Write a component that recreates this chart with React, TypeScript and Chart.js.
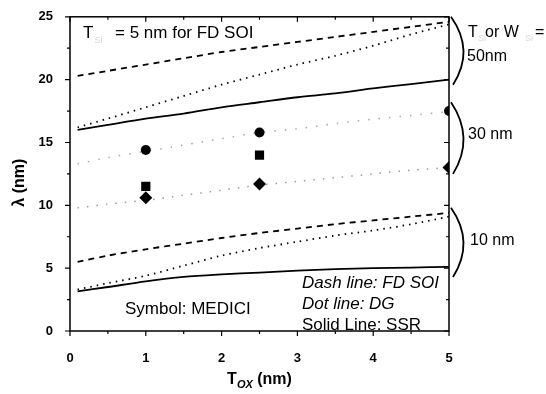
import React, { useEffect, useRef } from 'react';
import { Chart, registerables } from 'chart.js';

Chart.register(...registerables);

// Tox (nm) sample positions for the model curves
const toxNm = [0.1, 0.5, 1, 1.5, 2, 2.5, 3, 3.5, 4, 4.5, 5];

// T or W = 50 nm
const fdSoi50 = [20.3, 20.7, 21.2, 21.7, 22.2, 22.6, 23.0, 23.4, 23.8, 24.2, 24.6];
const dg50 = [16.2, 16.9, 17.8, 18.7, 19.6, 20.4, 21.2, 21.9, 22.7, 23.6, 24.4];
const ssr50 = [16.0, 16.4, 16.9, 17.3, 17.8, 18.2, 18.6, 18.9, 19.3, 19.65, 20.0];

// T or W = 30 nm (faint in the original)
const fdSoi30 = [13.3, 13.8, 14.3, 14.8, 15.3, 15.8, 16.1, 16.5, 16.85, 17.15, 17.45];
const ssr30 = [9.8, 10.1, 10.4, 10.8, 11.2, 11.6, 11.9, 12.2, 12.5, 12.8, 13.0];

// T or W = 10 nm
const fdSoi10 = [5.5, 6.0, 6.5, 6.95, 7.4, 7.8, 8.15, 8.5, 8.8, 9.1, 9.4];
const dg10 = [3.3, 3.8, 4.4, 5.2, 6.0, 6.6, 7.1, 7.6, 8.0, 8.5, 9.1];
const ssr10 = [3.15, 3.5, 3.95, 4.3, 4.5, 4.65, 4.8, 4.92, 5.0, 5.05, 5.1];

// MEDICI symbols (30 nm)
const medToxCircle = [1, 2.5, 5];
const medFdSoi = [14.4, 15.8, 17.5];
const medToxSquare = [1, 2.5];
const medDg = [11.5, 14.0];
const medToxDiamond = [1, 2.5, 5];
const medSsr = [10.6, 11.7, 13.0];

// Axis ticks
const xMin = 0, xMax = 5, xStep = 0.5;
const yMin = 0, yMax = 25, yStep = 2.5;

const FONT = '"Liberation Sans", Arial, sans-serif';

const pts = (xs: number[], ys: number[]) => xs.map((x, i) => ({ x, y: ys[i] }));

const lineDs = (label: string, ys: number[], dash: number[], width: number, color = '#000') => ({
  label,
  data: pts(toxNm, ys),
  borderColor: color,
  borderWidth: width,
  borderDash: dash,
  pointRadius: 0,
  fill: false,
  tension: 0.3,
});

const markerDs = (label: string, xs: number[], ys: number[], style: string, r: number) => ({
  label,
  data: pts(xs, ys),
  showLine: false,
  pointStyle: style,
  pointRadius: r,
  pointBackgroundColor: '#000',
  pointBorderColor: '#000',
  pointBorderWidth: 0,
  clip: 0,
});

const framePlugin = {
  id: 'frameTicks',
  afterDraw(chart: any) {
    const { ctx, chartArea: a, scales } = chart;
    const xs = scales.x, ys = scales.y;
    ctx.save();
    ctx.strokeStyle = '#000';
    ctx.lineWidth = 1.5;
    ctx.strokeRect(a.left, a.top, a.right - a.left, a.bottom - a.top);
    ctx.lineWidth = 1.2;
    ctx.beginPath();
    xs.ticks.forEach((t: any) => {
      const px = xs.getPixelForValue(t.value);
      const major = Math.abs(t.value - Math.round(t.value)) < 1e-6;
      const len = major ? 5 : 3;
      ctx.moveTo(px, a.bottom); ctx.lineTo(px, a.bottom + len);
      ctx.moveTo(px, a.top); ctx.lineTo(px, a.top + len);
    });
    ys.ticks.forEach((t: any) => {
      const py = ys.getPixelForValue(t.value);
      const major = Math.abs(t.value / 5 - Math.round(t.value / 5)) < 1e-6;
      const len = major ? 5 : 3;
      ctx.moveTo(a.left, py); ctx.lineTo(a.left - len, py);
      ctx.moveTo(a.right, py); ctx.lineTo(a.right - len, py);
    });
    ctx.stroke();

    // braces on the right
    const brace = (y1: number, y2: number) => {
      const p1 = ys.getPixelForValue(y1), p2 = ys.getPixelForValue(y2);
      ctx.beginPath();
      ctx.moveTo(a.right + 2, p1);
      ctx.quadraticCurveTo(a.right + 26, (p1 + p2) / 2, a.right + 4, p2);
      ctx.lineWidth = 1.8;
      ctx.stroke();
    };
    brace(25, 19.6);
    brace(18.2, 12.5);
    brace(9.8, 4.3);

    // texts
    ctx.textBaseline = 'alphabetic';
    ctx.textAlign = 'left';
    const txt = (s: string, x: number, y: number, font: string, color = '#000') => {
      ctx.font = font; ctx.fillStyle = color; ctx.fillText(s, x, y);
      return ctx.measureText(s).width;
    };
    // top-left
    const w = txt('T', a.left + 13, 38, `17px ${FONT}`);
    txt('Si', a.left + 13 + w + 1, 43, `9px ${FONT}`, '#d8d8d8');
    txt('= 5 nm for FD SOI', a.left + 45, 38, `17px ${FONT}`);
    // right labels
    txt('T', a.right + 19, 37, `16px ${FONT}`);
    txt('Si', a.right + 29, 41, `9px ${FONT}`, '#d8d8d8');
    txt('or W', a.right + 36, 37, `16px ${FONT}`);
    txt('Si', a.right + 76, 41, `9px ${FONT}`, '#d8d8d8');
    txt('=', a.right + 86, 37, `16px ${FONT}`);
    txt('50nm', a.right + 18, 61, `16px ${FONT}`);
    txt('30 nm', a.right + 19, 139, `16px ${FONT}`);
    txt('10 nm', a.right + 21, 245, `16px ${FONT}`);
    // legend texts
    txt('Dash line: FD SOI', 302, 288, `italic 17px ${FONT}`);
    txt('Dot line: DG', 302, 309, `italic 17px ${FONT}`);
    txt('Solid Line: SSR', 302, 330, `17px ${FONT}`);
    txt('Symbol: MEDICI', 125, 314, `17px ${FONT}`);

    // x title
    ctx.font = `bold 16px ${FONT}`;
    const wT = ctx.measureText('T').width;
    ctx.font = `italic bold 11px ${FONT}`;
    const wS = ctx.measureText('OX').width;
    ctx.font = `bold 16px ${FONT}`;
    const wR = ctx.measureText(' (nm)').width;
    const cx = (a.left + a.right) / 2;
    const x0 = cx - (wT + wS + wR) / 2;
    txt('T', x0, 384, `bold 16px ${FONT}`);
    txt('OX', x0 + wT, 388, `italic bold 11px ${FONT}`);
    txt(' (nm)', x0 + wT + wS, 384, `bold 16px ${FONT}`);

    // y title
    ctx.save();
    ctx.translate(20, ys.getPixelForValue(11.8));
    ctx.rotate(-Math.PI / 2);
    ctx.textAlign = 'center';
    ctx.textBaseline = 'middle';
    ctx.font = `bold 16px ${FONT}`;
    ctx.fillStyle = '#000';
    ctx.fillText('λ (nm)', 0, 0);
    ctx.restore();

    ctx.restore();
  },
};

export default function App() {
  const ref = useRef<HTMLCanvasElement>(null);
  useEffect(() => {
    if (!ref.current) return;
    const chart = new Chart(ref.current, {
      type: 'line',
      data: {
        datasets: [
          lineDs('FD SOI 50', fdSoi50, [6, 5], 1.8),
          lineDs('DG 50', dg50, [1.5, 5], 1.8),
          lineDs('SSR 50', ssr50, [], 1.8),
          lineDs('FD SOI 30', fdSoi30, [1.5, 9], 1.5, 'rgba(0,0,0,0.35)'),
          lineDs('SSR 30', ssr30, [1.5, 8], 1.5, 'rgba(0,0,0,0.4)'),
          lineDs('FD SOI 10', fdSoi10, [6, 5], 1.8),
          lineDs('DG 10', dg10, [1.5, 5], 1.8),
          lineDs('SSR 10', ssr10, [], 1.8),
          markerDs('MEDICI FD SOI', medToxCircle, medFdSoi, 'circle', 5),
          markerDs('MEDICI DG', medToxSquare, medDg, 'rect', 6.5),
          markerDs('MEDICI SSR', medToxDiamond, medSsr, 'rectRot', 6.5),
        ] as any,
      },
      options: {
        responsive: false,
        animation: false,
        layout: { padding: { top: 12, right: 97, left: 0, bottom: 0 } },
        plugins: { legend: { display: false }, tooltip: { enabled: false } },
        scales: {
          x: {
            type: 'linear',
            min: xMin,
            max: xMax,
            grid: { display: false },
            border: { display: false },
            afterFit: (s: any) => { s.height = 63; },
            ticks: {
              stepSize: xStep,
              autoSkip: false,
              maxRotation: 0,
              padding: 12,
              color: '#000',
              font: { family: FONT, size: 13, weight: 'bold' },
              callback: (v: any) => (Math.abs(v - Math.round(v)) < 1e-6 ? String(Math.round(v)) : ''),
            },
          },
          y: {
            type: 'linear',
            min: yMin,
            max: yMax,
            grid: { display: false },
            border: { display: false },
            afterFit: (s: any) => { s.width = 70; },
            ticks: {
              stepSize: yStep,
              autoSkip: false,
              padding: 9,
              color: '#000',
              font: { family: FONT, size: 13, weight: 'bold' },
              callback: (v: any) => (Math.abs(v / 5 - Math.round(v / 5)) < 1e-6 ? String(Math.round(v)) : ''),
            },
          },
        },
      } as any,
      plugins: [framePlugin],
    });
    return () => chart.destroy();
  }, []);
  return (
    <div style={{ position: 'fixed', left: 0, top: 0, width: 546, height: 394, background: '#fff' }}>
      <canvas ref={ref} width={546} height={394} style={{ display: 'block' }} />
    </div>
  );
}
